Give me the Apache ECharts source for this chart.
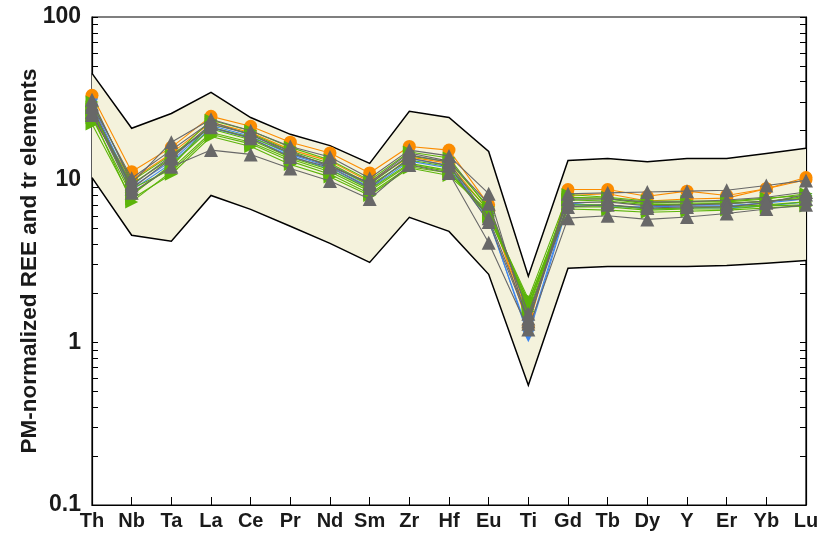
<!DOCTYPE html>
<html><head><meta charset="utf-8">
<script src="https://cdn.jsdelivr.net/npm/echarts@6/dist/echarts.min.js"></script>
<style>html,body{margin:0;padding:0;background:#fff}#c{width:821px;height:536px}</style>
</head><body><div id="c"></div>
<script>
const elements = ['Th','Nb','Ta','La','Ce','Pr','Nd','Sm','Zr','Hf','Eu','Ti','Gd','Tb','Dy','Y','Er','Yb','Lu'];
const yTickLabels = [0.1, 1, 10, 100];
const yMinorTicks = [0.1,0.2,0.3,0.4,0.5,0.6,0.7,0.8,0.9,1,2,3,4,5,6,7,8,9,10,20,30,40,50,60,70,80,90,100];

const envelopeUpper = [45, 20.7, 25.5, 34.4, 24.1, 19, 16.2, 12.6, 26.3, 24.1, 14.9, 2.55, 13.1, 13.5, 12.9, 13.5, 13.5, 14.5, 15.6];
const envelopeLower = [10.3, 4.55, 4.18, 8.0, 6.57, 5.17, 4.06, 3.1, 5.87, 4.81, 2.62, 0.544, 2.85, 2.93, 2.93, 2.93, 2.97, 3.06, 3.19];

const orange1 = [33, 11.2, 15.8, 24.5, 21.3, 17.0, 14.6, 11.0, 16.0, 15.2, 7.0, 1.25, 8.7, 8.7, 7.9, 8.5, 8.0, 8.8, 10.3];
const orange2 = [24, 10.0, 14.5, 22.5, 19.5, 15.3, 13.0, 9.7, 13.8, 12.6, 6.4, 1.45, 8.0, 8.2, 7.4, 7.6, 7.7, 8.8, 10.0];
const blue1 = [29, 9.0, 13.0, 21.5, 18.5, 14.3, 12.0, 9.0, 13.5, 12.2, 5.8, 1.09, 7.0, 7.0, 6.6, 6.7, 6.7, 6.9, 7.3];
const blue2 = [27, 8.6, 12.6, 20.8, 18.0, 14.0, 11.6, 8.8, 13.0, 11.8, 5.6, 1.15, 7.2, 6.8, 6.8, 6.9, 6.9, 7.2, 7.6];
const green1 = [25, 7.3, 11.2, 19.0, 16.6, 13.0, 10.8, 8.2, 12.0, 11.0, 6.2, 1.85, 8.1, 7.8, 7.4, 7.4, 7.4, 7.7, 8.0];
const green2 = [22, 7.6, 10.8, 18.4, 16.0, 12.4, 10.4, 8.0, 11.8, 10.6, 6.4, 1.75, 7.5, 7.4, 7.0, 7.1, 7.1, 7.4, 7.7];
const green3 = [28, 8.2, 12.0, 22.0, 19.2, 15.0, 12.6, 9.4, 14.0, 12.9, 6.8, 1.65, 7.8, 7.7, 7.2, 7.3, 7.3, 7.6, 8.2];
const green4 = [26, 9.4, 13.6, 23.2, 20.0, 15.8, 13.2, 9.9, 14.8, 13.6, 6.6, 1.55, 7.0, 7.0, 6.6, 6.7, 6.8, 7.0, 7.3];
const green5 = [24, 8.0, 12.4, 20.5, 17.6, 13.7, 11.5, 8.7, 12.6, 11.4, 6.0, 1.7, 6.6, 6.5, 6.3, 6.4, 6.5, 6.7, 6.9];
const green6 = [30, 9.8, 14.2, 21.0, 18.2, 14.6, 12.3, 9.2, 13.2, 12.0, 6.5, 1.6, 7.6, 7.6, 7.1, 7.0, 7.2, 7.3, 7.9];
const green7 = [27, 8.8, 11.6, 19.5, 17.0, 13.4, 11.2, 8.5, 12.4, 11.2, 5.9, 1.8, 6.8, 6.8, 6.5, 6.6, 6.6, 6.9, 7.0];
const gray1 = [31, 9.5, 17.0, 23.5, 20.0, 16.0, 13.8, 10.2, 15.2, 14.0, 8.2, 1.3, 8.2, 8.3, 8.4, 8.5, 8.6, 9.2, 9.9];
const gray2 = [26, 8.3, 12.0, 15.2, 14.3, 11.7, 9.8, 7.6, 12.3, 11.0, 4.1, 1.2, 5.8, 6.0, 5.7, 5.9, 6.2, 6.6, 7.0];
const gray3 = [28, 8.8, 13.5, 22.0, 19.0, 14.5, 12.3, 9.4, 14.2, 12.8, 5.8, 1.4, 7.6, 7.6, 7.3, 7.3, 7.5, 7.8, 8.4];
const gray4 = [25, 9.2, 14.0, 21.0, 18.0, 13.8, 11.9, 8.9, 13.6, 12.2, 5.5, 1.35, 7.2, 7.3, 6.9, 7.0, 7.1, 7.4, 7.6];
const gray5 = [29, 10.2, 15.2, 22.7, 18.8, 14.9, 12.0, 9.6, 14.6, 13.0, 7.1, 1.5, 6.8, 7.0, 6.7, 6.8, 6.8, 7.2, 8.1];

const ORANGE = '#fb8c00', BLUE = '#3f87f0', GREEN = '#5cb40a', GRAY = '#686868';
const groups = [
  {color: ORANGE, symbol: 'circle', size: 13, rot: 0, sets: [orange1, orange2]},
  {color: BLUE, symbol: 'triangle', size: 12, rot: 180, sets: [blue1, blue2]},
  {color: GREEN, symbol: 'triangle', size: 13, rot: -90, sets: [green1, green2, green3, green4, green5, green6, green7]},
  {color: GRAY, symbol: 'triangle', size: 14, rot: 0, sets: [gray1, gray2, gray3, gray4, gray5]}
];

const series = [{
  type: 'custom',
  z: 1,
  silent: true,
  data: [[0, 1]],
  renderItem: function (params, api) {
    const up = envelopeUpper.map((v, i) => api.coord([i, v]));
    const lo = envelopeLower.map((v, i) => api.coord([i, v]));
    const poly = up.concat(lo.slice().reverse());
    return {
      type: 'group',
      children: [
        {type: 'polygon', shape: {points: poly}, style: {fill: '#f4f2dc', stroke: null}},
        {type: 'polyline', shape: {points: up}, style: {stroke: '#000', lineWidth: 1.5, fill: null}},
        {type: 'polyline', shape: {points: lo}, style: {stroke: '#000', lineWidth: 1.5, fill: null}}
      ]
    };
  }
}];
let z = 2;
groups.forEach(g => {
  g.sets.forEach(d => {
    series.push({
      type: 'line', data: d, z: z++,
      symbol: g.symbol, symbolSize: g.size, symbolRotate: g.rot, showSymbol: true,
      lineStyle: {color: g.color, width: 1.1}, itemStyle: {color: g.color, opacity: 1},
      emphasis: {disabled: true}, animation: false
    });
  });
});

const FONT = 'Liberation Sans, Arial, sans-serif';
const yBase = {
  type: 'log', min: 0.1, max: 100, logBase: 10,
  axisLine: {show: true, lineStyle: {color: '#000', width: 1.2}},
  splitLine: {show: false},
  axisTick: {show: true, inside: true, length: 6, lineStyle: {color: '#000', width: 1}, customValues: yMinorTicks},
};
const chart = echarts.init(document.getElementById('c'), null, {renderer: 'canvas'});
chart.setOption({
  animation: false,
  grid: {left: 92, right: 15, top: 17, bottom: 31, show: true, borderColor: '#000', borderWidth: 1.2, backgroundColor: '#fff', containLabel: false, outerBoundsMode: 'none'},
  xAxis: {
    type: 'category', data: elements, boundaryGap: false,
    axisLine: {show: true, lineStyle: {color: '#000', width: 1.2}},
    axisTick: {show: true, inside: true, length: 8, lineStyle: {color: '#000', width: 1}},
    axisLabel: {interval: 0, margin: 6, color: '#1a1a1a', fontSize: 20, fontWeight: 'bold', fontFamily: FONT},
    splitLine: {show: false}
  },
  yAxis: [
    Object.assign({}, yBase, {
      position: 'left',
      name: 'PM-normalized REE and tr elements', nameLocation: 'middle', nameGap: 51, nameRotate: 90,
      nameMoveOverlap: false,
      nameTextStyle: {fontSize: 22.5, fontWeight: 'bold', color: '#1a1a1a', fontFamily: FONT},
      axisLabel: {show: true, margin: 11, color: '#1a1a1a', fontSize: 23, fontWeight: 'bold', fontFamily: FONT, customValues: yTickLabels,
        formatter: v => String(Number(v.toPrecision(3)))}
    }),
    Object.assign({}, yBase, {position: 'right', axisLabel: {show: false}, name: ''})
  ],
  series: series
});
</script>
</body></html>
